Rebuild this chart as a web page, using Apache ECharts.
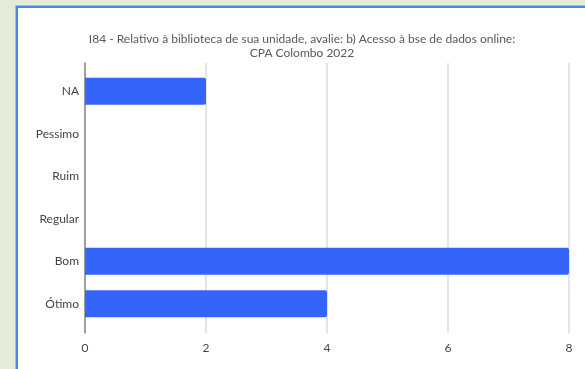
<!DOCTYPE html>
<html><head><meta charset="utf-8">
<script src="https://cdn.jsdelivr.net/npm/echarts@6/dist/echarts.min.js"></script>
<style>
html,body{margin:0;padding:0;width:585px;height:369px;overflow:hidden;background:#e3ecd9;}
#panel{position:absolute;left:15px;top:5px;width:570px;height:364px;background:#b9b9b9;}
#panel2{position:absolute;left:16px;top:6px;width:569px;height:363px;background:#4a86f0;}
#panel3{position:absolute;left:18px;top:8px;width:567px;height:361px;background:#ffffff;}
#chart{position:absolute;left:0;top:0;width:585px;height:369px;}
</style></head>
<body>
<div id="panel"></div><div id="panel2"></div><div id="panel3"></div>
<div id="chart"></div>
<script>
const categories = ["NA", "Pessimo", "Ruim", "Regular", "Bom", "Ótimo"];
const values = [2, 0, 0, 0, 8, 4];
const xTicks = [0, 2, 4, 6, 8];
const titleText = "I84 - Relativo à biblioteca de sua unidade, avalie: b) Acesso à bse de dados online:\nCPA Colombo 2022";

const chart = echarts.init(document.getElementById('chart'), null, {renderer:'canvas'});
const font = "Lato, 'Open Sans', sans-serif";
chart.setOption({
  backgroundColor: 'transparent',
  animation: false,
  title: {
    text: titleText, left: 297, top: 27, textAlign: 'center',
    textStyle: {fontFamily: font, fontSize: 12, fontWeight: 'normal', color: '#595959', lineHeight: 14}
  },
  grid: [
    {left: 85, right: 16, top: 63, bottom: 36},
    {left: 85, right: 16, top: 70, bottom: 44}
  ],
  xAxis: [
    {gridIndex: 0, type: 'value', min: xTicks[0], max: xTicks[xTicks.length-1], interval: 2,
     axisLine: {show: false}, axisTick: {show: false},
     axisLabel: {color: '#444', fontFamily: font, fontSize: 12, margin: 9},
     splitLine: {show: true, lineStyle: {color: '#dcdcdc', width: 1.5}}},
    {gridIndex: 1, type: 'value', min: xTicks[0], max: xTicks[xTicks.length-1], interval: 2, show: false}
  ],
  yAxis: [
    {gridIndex: 0, type: 'value', min: 0, max: 1, show: true,
     axisLine: {show: true, lineStyle: {color: '#888', width: 1.5}}, axisTick: {show: false},
     axisLabel: {show: false}, splitLine: {show: false}},
    {gridIndex: 1, type: 'category', data: categories, inverse: true,
     axisLine: {show: false}, axisTick: {show: false},
     axisLabel: {color: '#444', fontFamily: font, fontSize: 12, margin: 6},
     splitLine: {show: false}}
  ],
  series: [{
    type: 'bar', xAxisIndex: 1, yAxisIndex: 1, data: values,
    barCategoryGap: '36%',
    itemStyle: {color: '#3464fa', borderRadius: [0, 2, 2, 0]}
  }]
});
</script>
</body></html>
